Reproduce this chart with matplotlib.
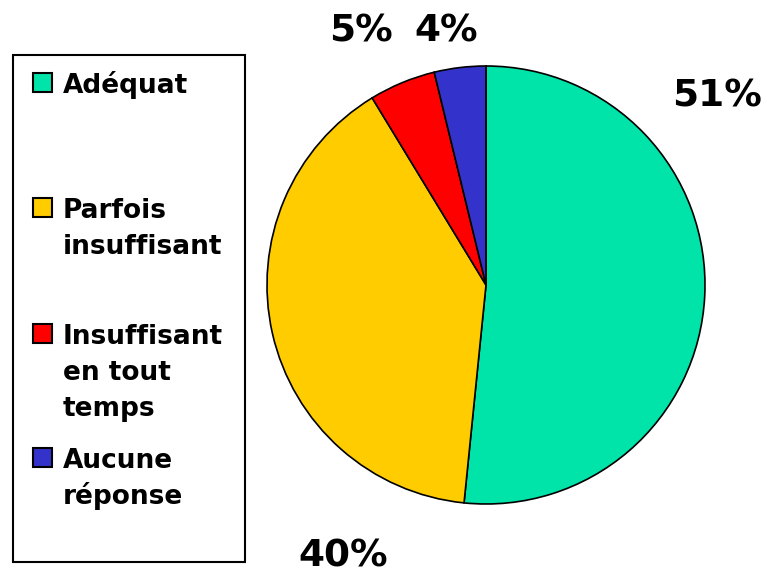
import matplotlib.pyplot as plt
from matplotlib.patches import Rectangle

# pie data (shares, labels as printed)
categories = ['Adéquat', 'Parfois\ninsuffisant', 'Insuffisant\nen tout\ntemps', 'Aucune\nréponse']
shares = [51.6, 39.7, 4.9, 3.8]
pct_labels = ['51%', '40%', '5%', '4%']
colors = ['#00E3A9', '#FFCC00', '#FF0000', '#3333CC']

W, H = 767, 574
fig = plt.figure(figsize=(W / 100, H / 100), dpi=100)
plt.rcParams['font.family'] = ['DejaVu Sans']

# pie axes: centre (486, 285) px, radius 219 px
cx, cy, r = 486, 285, 219
ax = fig.add_axes([(cx - r) / W, (H - cy - r) / H, 2 * r / W, 2 * r / H])
ax.pie(shares, colors=colors, startangle=90, counterclock=False,
       wedgeprops=dict(edgecolor='black', linewidth=1.2))
ax.set_xlim(-1, 1)
ax.set_ylim(-1, 1)
ax.set_aspect('equal')
ax.axis('off')

# percentage labels, placed by hand like the original
label_pos = [(1.055, 0.813), (-0.653, -1.285), (-0.571, 1.110), (-0.183, 1.110)]
for txt, (x, y) in zip(pct_labels, label_pos):
    ax.text(x, y, txt, ha='center', va='baseline', fontsize=27, fontweight='bold')

# legend drawn in pixel coordinates on an overlay axes
lax = fig.add_axes([0, 0, 1, 1], zorder=-1)
lax.set_xlim(0, W)
lax.set_ylim(H, 0)
lax.axis('off')
lax.add_patch(Rectangle((13, 55), 232, 507, facecolor='white', edgecolor='black', linewidth=1.5))
baselines = [93, 218, 344, 468]
for lab, col, b in zip(categories, colors, baselines):
    lax.add_patch(Rectangle((33, b - 20), 19, 19, facecolor=col, edgecolor='black', linewidth=1.5))
    for i, line in enumerate(lab.split('\n')):
        lax.text(63, b + i * 36, line, ha='left', va='baseline', fontsize=19, fontweight='bold')

fig.savefig('out.png', dpi=100)
